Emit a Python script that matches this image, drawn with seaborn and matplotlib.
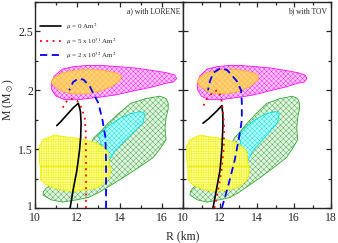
import numpy as np
import matplotlib
matplotlib.use("Agg")
import matplotlib.pyplot as plt
import matplotlib.transforms as mtransforms
import seaborn as sns
from matplotlib.lines import Line2D
from matplotlib.ticker import MultipleLocator

# mass-radius curves, panel a) with LORENE
black_a_r = [11.66, 11.80, 11.98, 12.10, 12.16, 12.18, 12.15, 12.05, 11.80, 11.50, 11.20, 11.03]
black_a_m = [1.00, 1.15, 1.32, 1.48, 1.60, 1.72, 1.82, 1.89, 1.85, 1.79, 1.73, 1.70]
red_a_r = [12.41, 12.41, 12.40, 12.35, 12.20, 12.00, 11.70, 11.45, 11.28]
red_a_m = [1.00, 1.40, 1.65, 1.77, 1.85, 1.91, 1.93, 1.90, 1.84]
blue_a_r = [13.36, 13.36, 13.33, 13.20, 13.00, 12.60, 12.30, 12.05, 11.80, 11.62]
blue_a_m = [1.00, 1.40, 1.60, 1.74, 1.89, 2.03, 2.09, 2.10, 2.07, 2.00]

# panel b) with TOV
black_b_r = [11.62, 11.80, 12.00, 12.10, 12.16, 12.15, 12.10, 11.80, 11.40, 11.08]
black_b_m = [1.00, 1.15, 1.32, 1.50, 1.70, 1.80, 1.87, 1.82, 1.76, 1.72]
red_b_r = [11.70, 11.90, 12.08, 12.20, 12.22, 12.16, 12.05, 11.85, 11.60, 11.30, 11.08]
red_b_m = [1.00, 1.15, 1.32, 1.50, 1.70, 1.82, 1.95, 2.00, 1.98, 1.93, 1.86]
blue_b_r = [12.10, 12.43, 12.80, 13.08, 13.18, 13.18, 13.14, 12.90, 12.40, 12.05, 11.65, 11.46, 11.35]
blue_b_m = [1.00, 1.18, 1.41, 1.64, 1.75, 1.90, 2.00, 2.08, 2.17, 2.19, 2.15, 2.08, 2.00]

# constraint regions (same in both panels)
mag_r = [10.76, 10.90, 11.30, 11.80, 12.40, 13.20, 14.00, 14.70, 15.50, 16.20, 16.60, 16.70,
         16.55, 16.20, 15.60, 14.80, 13.80, 13.00, 12.00, 11.40, 11.00, 10.80]
mag_m = [2.05, 2.12, 2.18, 2.20, 2.21, 2.21, 2.20, 2.19, 2.17, 2.15, 2.13, 2.10,
         2.07, 2.06, 2.03, 2.00, 1.96, 1.94, 1.92, 1.92, 1.95, 2.00]
org_r = [10.76, 10.90, 11.30, 11.90, 12.50, 13.20, 13.80, 14.10, 14.00, 13.60, 13.00, 12.40, 11.80, 11.30, 10.95]
org_m = [2.07, 2.11, 2.15, 2.17, 2.18, 2.17, 2.15, 2.12, 2.08, 2.03, 1.99, 1.97, 1.97, 1.99, 2.03]
grn_r = [10.38, 10.76, 11.30, 12.00, 12.54, 13.00, 13.46, 14.10, 14.70, 15.20, 15.60, 15.90, 16.20,
         16.15, 16.20, 16.30, 16.30, 16.20, 15.90, 15.60, 15.24, 14.90, 14.54, 14.00, 13.46, 13.10,
         12.80, 12.30, 11.50, 10.80, 10.54, 10.40]
grn_m = [1.11, 1.07, 1.05, 1.07, 1.09, 1.13, 1.18, 1.25, 1.32, 1.38, 1.43, 1.50, 1.58,
         1.68, 1.77, 1.84, 1.89, 1.93, 1.95, 1.94, 1.93, 1.91, 1.89, 1.81, 1.72, 1.65,
         1.60, 1.45, 1.30, 1.20, 1.17, 1.14]
cyn_r = [13.00, 13.50, 14.00, 14.50, 15.00, 15.20, 15.10, 14.70, 14.30, 13.80, 13.50, 13.20]
cyn_m = [1.62, 1.70, 1.76, 1.80, 1.82, 1.80, 1.72, 1.65, 1.58, 1.49, 1.40, 1.50]
yel_r = [10.20, 10.38, 10.92, 11.60, 12.16, 12.90, 13.30, 13.46, 13.50, 13.60, 13.46, 13.20,
         12.90, 12.30, 11.80, 11.30, 10.90, 10.50, 10.27, 10.27, 10.20, 10.20]
yel_m = [1.52, 1.58, 1.62, 1.60, 1.59, 1.55, 1.51, 1.47, 1.38, 1.32, 1.24, 1.20,
         1.17, 1.15, 1.14, 1.15, 1.17, 1.20, 1.24, 1.32, 1.41, 1.47]
yel_split = 1.355

labels = [r"$\mu$ = 0 Am$^2$", r"$\mu$ = 5 x 10$^{31}$ Am$^2$", r"$\mu$ = 2 x 10$^{32}$ Am$^2$"]

sns.set_style("ticks")
plt.rcParams["font.family"] = ["Liberation Serif", "DejaVu Serif"]
plt.rcParams["mathtext.fontset"] = "stix"
plt.rcParams["hatch.linewidth"] = 0.3

fig = plt.figure(figsize=(3.38, 2.43), dpi=100)
ax_a = fig.add_axes([35 / 338, 35 / 243, 148 / 338, 206 / 243])
ax_b = fig.add_axes([183 / 338, 35 / 243, 148 / 338, 206 / 243])


def regions(ax):
    ax.fill(mag_r, mag_m, facecolor="#ffc8ff", edgecolor="#ff10ff", hatch="xxxxxxx", lw=0.6, zorder=1)
    ax.fill(org_r, org_m, facecolor="#ffd27a", edgecolor="#ffb030", hatch="xxxxxx", lw=0.6, zorder=2)
    ax.fill(grn_r, grn_m, facecolor="#e4f4e4", edgecolor="#36a836", hatch="xxxxxx", lw=0.6, zorder=1)
    ax.fill(cyn_r, cyn_m, facecolor="#b8ffff", edgecolor="#00dede", hatch="xxxxxxx", lw=0.6, zorder=2)
    ax.fill(yel_r, yel_m, facecolor="#ffff9a", edgecolor="#eeee00", hatch="+++++++", lw=0.6, zorder=3)
    ax.plot([10.22, 13.55], [yel_split, yel_split], color="#eeee00", lw=0.8, zorder=3)


def curves(ax, br, bm, rr, rm, ur, um):
    sns.lineplot(x=br, y=bm, sort=False, estimator=None, ax=ax, color="black", lw=1.2, zorder=5)
    sns.lineplot(x=rr, y=rm, sort=False, estimator=None, ax=ax, color="red", lw=1.3,
                 linestyle=(0, (1, 2.5)), zorder=5)
    sns.lineplot(x=ur, y=um, sort=False, estimator=None, ax=ax, color="blue", lw=1.3,
                 linestyle=(0, (4, 2.5)), zorder=5)


regions(ax_a)
regions(ax_b)
curves(ax_a, black_a_r, black_a_m, red_a_r, red_a_m, blue_a_r, blue_a_m)
curves(ax_b, black_b_r, black_b_m, red_b_r, red_b_m, blue_b_r, blue_b_m)

ax_a.set_xlim(10, 17)
ax_b.set_xlim(10, 18)
for ax in (ax_a, ax_b):
    ax.set_ylim(1, 2.75)
    ax.set_xlabel("")
    ax.set_ylabel("")
    ax.xaxis.set_major_locator(MultipleLocator(2))
    ax.xaxis.set_minor_locator(MultipleLocator(1))
    ax.yaxis.set_major_locator(MultipleLocator(0.5))
    ax.yaxis.set_minor_locator(MultipleLocator(0.25))
    ax.tick_params(which="both", direction="in", top=True, right=True, labelsize=8.5,
                   width=0.9, pad=1.5)
    ax.tick_params(axis="x", pad=3)
    ax.tick_params(which="major", length=3.5)
    ax.tick_params(which="minor", length=2)
    for s in ax.spines.values():
        s.set_linewidth(1.0)
ax_a.set_yticks([1, 1.5, 2, 2.5])
ax_a.set_yticklabels(["1", "1.5", "2", "2.5"])
ax_b.tick_params(labelleft=False)
ax_a.set_xticks([10, 12, 14, 16])

# nudge the bottom "1" up a little so it clears the "10" below it
one = ax_a.get_yticklabels()[0]
one.set_transform(one.get_transform() + mtransforms.ScaledTranslation(0, 2.5 / 100, fig.dpi_scale_trans))

ax_a.text(0.985, 0.975, "a) with LORENE", transform=ax_a.transAxes, ha="right", va="top", fontsize=5.5)
ax_b.text(0.975, 0.975, "b) with TOV", transform=ax_b.transAxes, ha="right", va="top", fontsize=5.5)

handles = [Line2D([], [], color="black", lw=1.2),
           Line2D([], [], color="red", lw=1.3, linestyle=(0, (1, 2.5))),
           Line2D([], [], color="blue", lw=1.3, linestyle=(0, (4, 2.5)))]
ax_a.legend(handles, labels, loc="upper left", bbox_to_anchor=(0.0, 0.93), frameon=False,
            fontsize=5, handlelength=3.0, handletextpad=0.8, labelspacing=0.55, borderaxespad=0.3)

fig.text(183 / 338, 1 - 236 / 243, "R (km)", ha="center", va="center", fontsize=8.5)
fig.text(8 / 338, 1 - 100 / 243, r"M (M$_\odot$)", ha="center", va="center", rotation=90, fontsize=8.5)

fig.savefig("out.png", dpi=100)
